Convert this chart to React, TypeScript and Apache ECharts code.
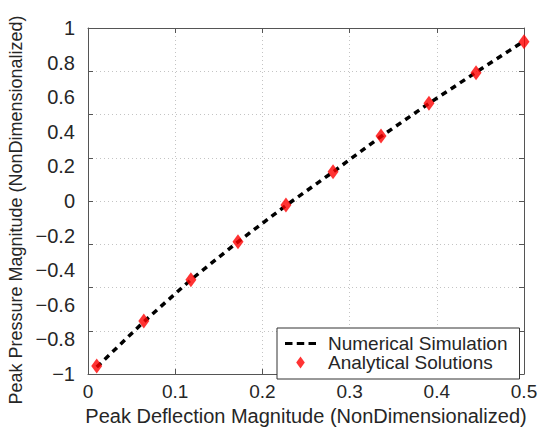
import React, { useEffect, useRef } from "react";
import * as echarts from "echarts";

const deflection = [0.01, 0.064, 0.118, 0.172, 0.227, 0.281, 0.336, 0.391, 0.445, 0.5];
const numericalPressure = [-0.96, -0.698, -0.455, -0.236, -0.026, 0.168, 0.373, 0.564, 0.744, 0.924];
const analyticalPressure = [-0.954, -0.694, -0.455, -0.235, -0.023, 0.169, 0.376, 0.565, 0.742, 0.921];

const seriesNames = ["Numerical Simulation", "Analytical Solutions"];
const xAxisName = "Peak Deflection Magnitude (NonDimensionalized)";
const yAxisName = "Peak Pressure Magnitude (NonDimensionalized)";

const FONT = "Liberation Sans, Arial, sans-serif";
const TXT = "#262626";
const AXIS = "#555555";
const GRID = "#c4c4c4";

const fmt = (v: number) => {
  const r = Math.round(v * 100) / 100;
  return String(r).replace("-", "\u2212");
};

export default function App() {
  const ref = useRef<HTMLDivElement>(null);
  useEffect(() => {
    if (!ref.current) return;
    const chart = echarts.init(ref.current, undefined, { renderer: "svg" });
    const lineData = deflection.map((x, i) => [x, numericalPressure[i]]);
    const scatterData = deflection.map((x, i) => [x, analyticalPressure[i]]);
    const baseTick = { show: true, inside: true, length: 5, lineStyle: { color: AXIS } };
    chart.setOption({
      animation: false,
      backgroundColor: "#ffffff",
      textStyle: { fontFamily: FONT },
      grid: { left: 88, right: 30, top: 28, bottom: 63, containLabel: false, outerBoundsMode: "none" },
      legend: {
        orient: "vertical",
        left: 277,
        top: 328,
        padding: [6, 12, 7, 8],
        itemGap: 0,
        itemWidth: 31,
        itemHeight: 12,
        backgroundColor: "#ffffff",
        borderColor: "#333333",
        borderWidth: 1,
        borderRadius: 0,
        textStyle: { fontFamily: FONT, fontSize: 19, color: TXT, lineHeight: 17, padding: [0, 0, 0, 7] },
        data: [
          {
            name: seriesNames[0],
            icon: "path://M0,0h7v3h-7z M11,0h7v3h-7z M22,0h7v3h-7z",
            itemStyle: { color: "#000000" },
          },
          {
            name: seriesNames[1],
            icon: "path://M5,0L10,7L5,14L0,7Z",
            itemStyle: { color: "#ff0000" },
          },
        ],
      },
      xAxis: [
        {
          type: "value",
          position: "bottom",
          min: 0,
          max: 0.5,
          interval: 0.1,
          name: xAxisName,
          nameLocation: "middle",
          nameGap: 27,
          nameTextStyle: { fontFamily: FONT, fontSize: 20, color: TXT },
          axisLine: { show: true, onZero: false, lineStyle: { color: AXIS, width: 1 } },
          axisTick: baseTick,
          axisLabel: { fontFamily: FONT, fontSize: 19, color: TXT, margin: 8, formatter: fmt },
          splitLine: { show: true, lineStyle: { color: GRID, type: [1, 3], width: 1 } },
        },
        {
          type: "value",
          position: "top",
          min: 0,
          max: 0.5,
          interval: 0.1,
          axisLine: { show: true, onZero: false, lineStyle: { color: AXIS, width: 1 } },
          axisTick: baseTick,
          axisLabel: { show: false },
          splitLine: { show: false },
        },
      ],
      yAxis: [
        {
          type: "value",
          position: "left",
          min: -1,
          max: 1,
          interval: 0.25,
          axisLine: { show: true, onZero: false, lineStyle: { color: AXIS, width: 1 } },
          axisTick: baseTick,
          axisLabel: { show: false },
          splitLine: { show: true, lineStyle: { color: GRID, type: [1, 3], width: 1 } },
        },
        {
          type: "value",
          position: "left",
          min: -1,
          max: 1,
          interval: 0.2,
          name: yAxisName,
          nameLocation: "middle",
          nameGap: 52,
          nameTextStyle: { fontFamily: FONT, fontSize: 18, color: TXT, padding: [0, 18, 0, 0] },
          axisLine: { show: false },
          axisTick: { show: false },
          axisLabel: { fontFamily: FONT, fontSize: 20, color: TXT, margin: 13, formatter: fmt },
          splitLine: { show: false },
        },
        {
          type: "value",
          position: "right",
          min: -1,
          max: 1,
          interval: 0.25,
          axisLine: { show: true, onZero: false, lineStyle: { color: AXIS, width: 1 } },
          axisTick: baseTick,
          axisLabel: { show: false },
          splitLine: { show: false },
        },
      ],
      series: [
        {
          name: seriesNames[0],
          type: "line",
          xAxisIndex: 0,
          yAxisIndex: 0,
          data: lineData,
          showSymbol: false,
          symbol: "none",
          smooth: false,
          lineStyle: { color: "#000000", width: 3.5, type: [6, 5] },
          itemStyle: { color: "#000000" },
          z: 2,
        },
        {
          name: seriesNames[1],
          type: "scatter",
          xAxisIndex: 0,
          yAxisIndex: 0,
          data: scatterData,
          symbol: "diamond",
          symbolSize: [11, 15],
          itemStyle: { color: "#ff0000" },
          z: 3,
        },
      ],
    });
    return () => chart.dispose();
  }, []);
  return <div ref={ref} style={{ width: 554, height: 437, margin: -8 }} />;
}
